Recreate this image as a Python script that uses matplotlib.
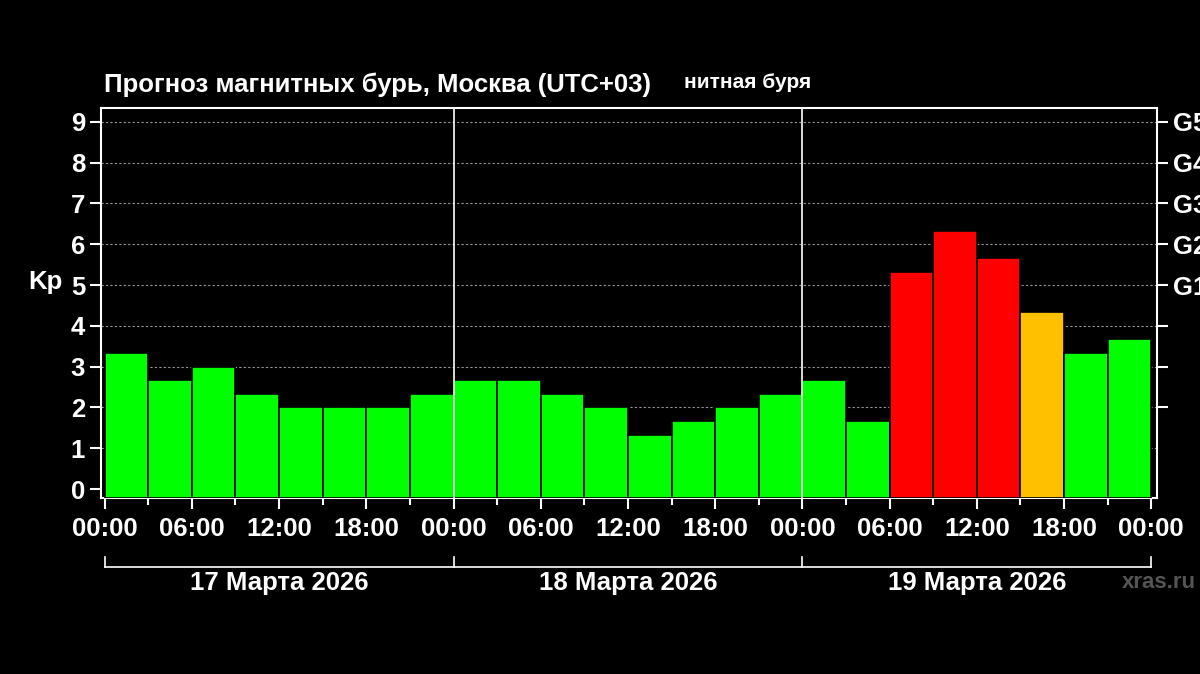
import matplotlib
matplotlib.use("Agg")
import matplotlib.pyplot as plt
import numpy as np

kp = [3.33, 2.67, 3.0, 2.33, 2.0, 2.0, 2.0, 2.33,
      2.67, 2.67, 2.33, 2.0, 1.33, 1.67, 2.0, 2.33,
      2.67, 1.67, 5.33, 6.33, 5.67, 4.33, 3.33, 3.67]
colors = ['#00ff00'] * 18 + ['#ff0000', '#ff0000', '#ff0000', '#ffc000', '#00ff00', '#00ff00']
days = ['17 Марта 2026', '18 Марта 2026', '19 Марта 2026']
hour_labels = ['00:00', '06:00', '12:00', '18:00']
g_labels = ['', '', '', 'G1', 'G2', 'G3', 'G4', 'G5']

plt.rcParams['font.family'] = ['Liberation Sans', 'DejaVu Sans']
plt.rcParams['font.weight'] = 'bold'
FS = 18.5
fig = plt.figure(figsize=(12, 6.74), dpi=100, facecolor='black')
ax = fig.add_axes([0.0842, 0.2611, 0.880, 0.5786], facecolor='black')
ymin, ymax = -0.22, 9.34
x = np.arange(len(kp)) * 3 + 1.5
ax.bar(x, np.array(kp) - ymin, bottom=ymin, width=3, color=colors, edgecolor='black', linewidth=1.2, zorder=3)
ax.set_ylim(ymin, ymax)
ax.set_xlim(-0.25, 72.4)
for y in range(1, 10):
    ax.axhline(y, color='#999999', linestyle=(0, (2, 2)), linewidth=0.8, zorder=1)
for d in (24, 48):
    ax.axvline(d, color='white', linewidth=1.2, zorder=4)
for s in ax.spines.values():
    s.set_color('white'); s.set_linewidth(1.5)
ax.set_yticks(range(10))
ax.set_yticklabels([str(i) for i in range(10)], color='white', fontsize=FS, fontweight='bold')
ax.set_xticks(np.arange(0, 73, 6))
ax.set_xticklabels([hour_labels[i % 4] for i in range(13)], color='white', fontsize=FS, fontweight='bold')
ax.set_xticks(np.arange(3, 73, 6), minor=True)
ax.tick_params(axis='both', colors='white', length=8, width=1.5, direction='out')
ax.tick_params(axis='x', which='minor', colors='white', length=5, width=1.5)
ax.tick_params(axis='x', which='major', pad=6)
ax2 = ax.twinx()
ax2.set_ylim(ymin, ymax)
ax2.set_yticks(range(2, 10))
ax2.set_yticklabels(g_labels, color='white', fontsize=FS, fontweight='bold')
ax2.tick_params(axis='y', colors='white', length=8, width=1.5)
for s in ax2.spines.values():
    s.set_visible(False)

fig.text(45/1200, 1-282/674, 'Kp', color='white', fontsize=FS, fontweight='bold', ha='center', va='center')
fig.text(104/1200, 1-85/674, 'Прогноз магнитных бурь, Москва (UTC+03)', color='white', fontsize=FS, fontweight='bold', va='center')
fig.text(684/1200, 1-82/674, 'нитная буря', color='white', fontsize=15, fontweight='bold', va='center')

# date bracket
trans = ax.get_xaxis_transform()
yb = -(567-498)/(0.5786*674)
ax.plot([0, 72], [yb, yb], transform=trans, color='white', lw=1.2, clip_on=False)
for d in (0, 24, 48, 72):
    ax.plot([d, d], [yb, yb + 10/(0.5786*674)], transform=trans, color='white', lw=1.2, clip_on=False)
yt = -(583-498)/(0.5786*674)
for i, name in enumerate(days):
    ax.text(i*24+12, yt, name, transform=trans, color='white', fontsize=FS, fontweight='bold', ha='center', va='center')
fig.text(1122/1200, 1-583/674, 'xras.ru', color='#555555', fontsize=16, fontweight='bold', va='center')

fig.savefig('out.png', dpi=100, facecolor='black')
